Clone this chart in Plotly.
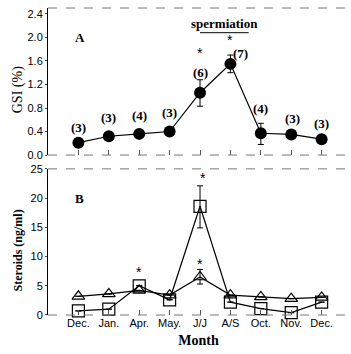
import plotly.graph_objects as go

months = ["Dec.", "Jan.", "Apr.", "May.", "J/J", "A/S", "Oct.", "Nov.", "Dec."]
gsi = [0.21, 0.32, 0.36, 0.40, 1.06, 1.55, 0.37, 0.35, 0.27]
gsi_err_up = [0, 0.07, 0, 0, 0.22, 0.15, 0.17, 0.07, 0]
gsi_err_dn = [0, 0.07, 0, 0, 0.23, 0.15, 0.19, 0.07, 0]
n_labels = ["(3)", "(3)", "(4)", "(3)", "(6)", "(7)", "(4)", "(3)", "(3)"]
n_label_y = [0.47, 0.64, 0.67, 0.72, 1.41, 1.72, 0.79, 0.62, 0.54]
n_label_dx = [0, 0, 0, 0, 0, 0.33, 0, 0.05, 0]
squares = [0.7, 1.0, 5.0, 2.6, 18.6, 2.2, 1.1, 0.4, 2.2]
sq_err_up = [0, 0, 0, 0, 3.5, 0, 0, 0, 0]
sq_err_dn = [0, 0, 0, 0, 3.7, 0, 0, 0, 0]
triangles = [3.2, 3.6, 4.2, 3.4, 6.5, 3.4, 3.1, 2.8, 3.0]
tr_err_up = [0, 0, 0, 0, 1.3, 0, 0, 0, 0]
tr_err_dn = [0, 0, 0, 0, 1.2, 0, 0, 0, 0]
gsi_ticks = [0, 0.4, 0.8, 1.2, 1.6, 2.0, 2.4]
gsi_ticktext = ["0.0", "0.4", "0.8", "1.2", "1.6", "2.0", "2.4"]
ster_ticks = [0, 5, 10, 15, 20, 25]

x = list(range(len(months)))
serif = "Liberation Serif"
sans = "Liberation Sans"

fig = go.Figure()
fig.add_trace(go.Scatter(
    x=x, y=gsi, mode="lines+markers", xaxis="x", yaxis="y",
    line=dict(color="black", width=1.2),
    marker=dict(symbol="circle", size=12, color="black"),
    error_y=dict(type="data", array=gsi_err_up, arrayminus=gsi_err_dn,
                 color="black", thickness=1, width=3),
    cliponaxis=False, showlegend=False))
fig.add_trace(go.Scatter(
    x=x, y=squares, mode="lines+markers", xaxis="x2", yaxis="y2",
    line=dict(color="black", width=1.2),
    marker=dict(symbol="square-open", size=12, color="black", line=dict(width=1.2)),
    error_y=dict(type="data", array=sq_err_up, arrayminus=sq_err_dn,
                 color="black", thickness=1, width=3),
    cliponaxis=False, showlegend=False))
fig.add_trace(go.Scatter(
    x=x, y=triangles, mode="lines+markers", xaxis="x2", yaxis="y2",
    line=dict(color="black", width=1.2),
    marker=dict(symbol="triangle-up-open", size=11, color="black", line=dict(width=1.2)),
    error_y=dict(type="data", array=tr_err_up, arrayminus=tr_err_dn,
                 color="black", thickness=1, width=3),
    cliponaxis=False, showlegend=False))

ann = []
for i, (t, yy, dx) in enumerate(zip(n_labels, n_label_y, n_label_dx)):
    ann.append(dict(x=i + dx, y=yy, xref="x", yref="y", text="<b>%s</b>" % t,
                    showarrow=False, font=dict(family=serif, size=13, color="black")))
for xx, yy, xr, yr in [(4, 1.74, "x", "y"), (5, 1.96, "x", "y"),
                       (2, 7.3, "x2", "y2"), (4.1, 23.4, "x2", "y2"), (4, 8.8, "x2", "y2")]:
    ann.append(dict(x=xx, y=yy, xref=xr, yref=yr, text="*", showarrow=False,
                    font=dict(family=sans, size=14, color="black")))
ann.append(dict(x=4.8, y=2.24, xref="x", yref="y", text="<b>spermiation</b>",
                showarrow=False, font=dict(family=serif, size=13, color="black")))
ann.append(dict(x=0.05, y=2.0, xref="x", yref="y", text="<b>A</b>",
                showarrow=False, font=dict(family=serif, size=13, color="black")))
ann.append(dict(x=0.05, y=20.0, xref="x2", yref="y2", text="<b>B</b>",
                showarrow=False, font=dict(family=serif, size=13, color="black")))
ann.append(dict(x=-0.1, y=0.735, xref="paper", yref="paper", text="GSI (%)",
                textangle=-90, showarrow=False, xanchor="center", yanchor="middle",
                font=dict(family=serif, size=14, color="black")))
ann.append(dict(x=-0.1, y=0.21, xref="paper", yref="paper", text="<b>Steroids (ng/ml)</b>",
                textangle=-90, showarrow=False, xanchor="center", yanchor="middle",
                font=dict(family=serif, size=12, color="black")))

shapes = [
    dict(type="line", xref="x", yref="y", x0=4.0, x1=5.6, y0=2.08, y1=2.08,
         line=dict(color="black", width=1)),
]
for xr, yr in [("x domain", "y domain"), ("x2 domain", "y2 domain")]:
    for yv in [0, 1]:
        shapes.append(dict(type="line", xref=xr, yref=yr, x0=0, x1=1, y0=yv, y1=yv,
                           line=dict(color="#777", width=1, dash="dash")))

axis_common = dict(showgrid=False, zeroline=False, linewidth=1)
fig.update_layout(
    width=351, height=354, margin=dict(l=48, r=2, t=6, b=39),
    plot_bgcolor="white", paper_bgcolor="white",
    xaxis=dict(**axis_common, showline=False, domain=[0, 1], range=[-1, 8.9], anchor="y",
               tickvals=x, ticktext=[""] * len(x), ticks="inside", ticklen=5,
               tickcolor="#555"),
    yaxis=dict(**axis_common, showline=True, domain=[0.521, 1], range=[0, 2.5], anchor="x",
               linecolor="black", tickvals=gsi_ticks, ticktext=gsi_ticktext,
               ticks="outside", ticklen=2,
               tickfont=dict(family=sans, size=11, color="black")),
    yaxis3=dict(showgrid=False, zeroline=False, showline=False, overlaying="y",
                side="right", anchor="x", range=[0, 2.5], tickvals=gsi_ticks,
                showticklabels=False, ticks="inside", ticklen=4, tickcolor="#777"),
    xaxis2=dict(**axis_common, showline=False, domain=[0, 1], range=[-1, 8.9], anchor="y2",
                tickvals=x, ticktext=months, ticks="inside", ticklen=5, tickcolor="#555",
                tickfont=dict(family=sans, size=11, color="black"),
                title=dict(text="<b>Month</b>", font=dict(family=serif, size=14, color="black"),
                           standoff=7)),
    yaxis2=dict(**axis_common, showline=True, domain=[0, 0.476], range=[0, 25], anchor="x2",
                linecolor="black", tickvals=ster_ticks, ticks="outside", ticklen=2,
                tickfont=dict(family=sans, size=11, color="black")),
    yaxis4=dict(showgrid=False, zeroline=False, showline=False, overlaying="y2",
                side="right", anchor="x2", range=[0, 25], tickvals=ster_ticks,
                showticklabels=False, ticks="inside", ticklen=4, tickcolor="#777"),
    annotations=ann, shapes=shapes,
)
fig.write_html("out.html")
